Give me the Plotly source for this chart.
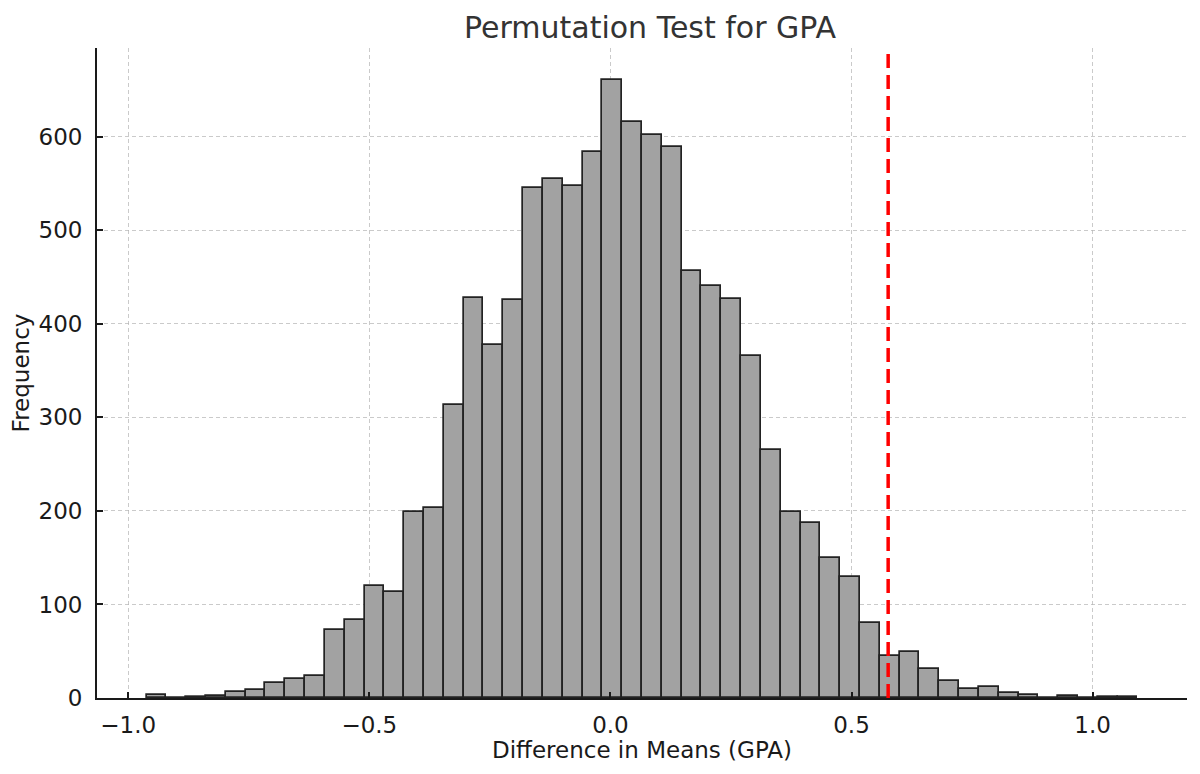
import numpy as np
import plotly.graph_objects as go

# histogram of permuted differences in mean GPA (50 equal bins)
bin_start = -0.962
bin_width = 0.0411
counts = [3, 0, 1, 2, 6, 9, 16, 20, 24, 73,
          83, 120, 113, 199, 203, 313, 428, 377, 426, 545,
          555, 547, 584, 661, 616, 602, 589, 457, 441, 427,
          366, 265, 199, 187, 150, 129, 80, 45, 49, 31,
          18, 10, 12, 5, 3, 0, 2, 0, 1, 1]
observed_diff = 0.576

x_ticks = [-1.0, -0.5, 0.0, 0.5, 1.0]
x_tick_labels = ["\u22121.0", "\u22120.5", "0.0", "0.5", "1.0"]
y_ticks = [0, 100, 200, 300, 400, 500, 600]

centers = bin_start + bin_width * (np.arange(len(counts)) + 0.5)
bin_end = bin_start + bin_width * len(counts)
pad = 0.05 * (bin_end - bin_start)

fig = go.Figure()
fig.add_trace(go.Bar(
    x=centers,
    y=counts,
    width=bin_width,
    marker=dict(color="#a2a2a2", line=dict(color="#222222", width=1.7)),
    showlegend=False,
))

# observed difference
fig.add_shape(type="line", xref="x", yref="paper",
              x0=observed_diff, x1=observed_diff, y0=0, y1=1,
              line=dict(color="#ff0000", width=3.5, dash="14px,7px"))

font_family = "DejaVu Sans"
fig.update_layout(
    width=1200, height=774,
    margin=dict(l=89, r=21, t=40, b=84),
    paper_bgcolor="white", plot_bgcolor="white",
    bargap=0,
    font=dict(family=font_family, size=23, color="#1a1a1a"),
    title=dict(text="Permutation Test for GPA", x=0.535, xanchor="center",
               y=0.975, yanchor="middle",
               font=dict(size=30, color="#333333", family=font_family)),
)
fig.update_xaxes(
    range=[bin_start - pad, bin_end + pad],
    tickvals=x_ticks, ticktext=x_tick_labels,
    ticks="inside", ticklen=6, tickwidth=1.5, tickcolor="#1a1a1a",
    showline=True, linecolor="#1a1a1a", linewidth=1.8,
    showgrid=True, gridcolor="rgba(180,180,180,0.7)", gridwidth=1, griddash="4px,3px",
    zeroline=False, layer="above traces", automargin=False,
    ticklabelstandoff=5,
    title=dict(text="Difference in Means (GPA)", font=dict(size=23), standoff=3),
)
fig.update_yaxes(
    range=[0, 695],
    tickvals=y_ticks,
    ticks="inside", ticklen=6, tickwidth=1.5, tickcolor="#1a1a1a",
    showline=True, linecolor="#1a1a1a", linewidth=1.8,
    showgrid=True, gridcolor="rgba(180,180,180,0.7)", gridwidth=1, griddash="4px,3px",
    zeroline=False, layer="above traces", automargin=False,
    ticklabelstandoff=8,
    title=dict(text="Frequency", font=dict(size=23), standoff=7),
)

fig.write_html("out.html")
